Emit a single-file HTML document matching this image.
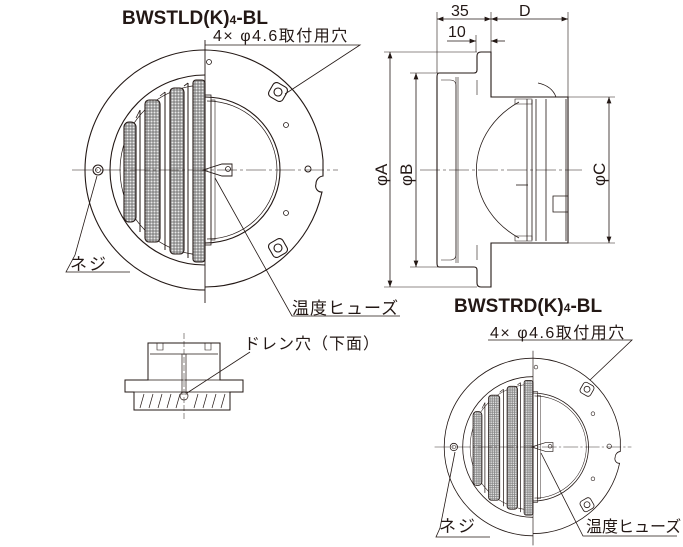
<!DOCTYPE html>
<html><head><meta charset="utf-8"><style>
html,body{margin:0;padding:0;background:#fff;}
svg{display:block;}
text{font-family:"Liberation Sans","Noto Sans CJK JP",sans-serif;fill:#231815;}
</style></head><body>
<svg width="683" height="547" viewBox="0 0 683 547" xmlns="http://www.w3.org/2000/svg">
<defs>
<pattern id="m" width="3" height="3" patternUnits="userSpaceOnUse">
<rect width="3" height="3" fill="#8a8a8a"/>
<circle cx="1.5" cy="1.5" r="1" fill="#e8e8e8"/>
</pattern>
<marker id="a" viewBox="0 0 8 6" refX="8" refY="3" markerWidth="8" markerHeight="6" orient="auto-start-reverse"><path d="M0,0L8,3L0,6z" fill="#231815"/></marker>
<g id="face" fill="none" stroke="#231815" stroke-width="1.1">
 <path d="M205,50 A120,120 0 0 0 205,290" />
 <path d="M205,75 A95,95 0 0 0 205,265" />
 <path d="M205,85 A85,85 0 0 0 205,255" stroke-width="0.7"/>
 <rect x="124" y="122" width="12" height="100" rx="5" fill="url(#m)"/>
 <rect x="145" y="100" width="15" height="142" rx="4" fill="url(#m)"/>
 <rect x="170" y="88" width="14" height="166" rx="4" fill="url(#m)"/>
 <rect x="193" y="80" width="12" height="182" rx="3" fill="url(#m)"/>
 <path d="M140,110 V232 M165,92 V250 M188,83 V258" stroke-width="1"/>
 <path d="M136,118 L140,110 M160,96 L165,92 M184,86 L188,83" stroke-width="0.8"/>
 <path d="M205,50 A120,120 0 0 1 323,160 L323,176 A8,8 0 0 0 316,184 A6,6 0 0 0 322,192 A120,120 0 0 1 205,287"/>
 <path d="M205,97 A75,73 0 0 1 205,243" />
 <path d="M207,101 A70,69 0 0 1 207,239" stroke-width="0.7"/>
 <rect x="205" y="95" width="6" height="150" stroke-width="0.8"/>
 <rect x="211" y="100" width="4" height="140" stroke-width="0.6"/>
 <path d="M203,170 L222,164 L232,164 L232,176 L222,176 Z" stroke-width="0.9"/>
 <circle cx="228" cy="169" r="2.5" stroke-width="0.8"/>
 <rect x="270" y="84" width="16" height="16" rx="4" transform="rotate(30 278 92)"/>
 <circle cx="278" cy="92" r="4"/>
 <rect x="270" y="240" width="16" height="16" rx="4" transform="rotate(-30 278 248)"/>
 <circle cx="278" cy="248" r="4"/>
 <circle cx="286" cy="125" r="2.5" stroke-width="0.8"/>
 <circle cx="286" cy="213" r="2.5" stroke-width="0.8"/>
 <circle cx="308" cy="169" r="3" stroke-width="0.9"/>
 <circle cx="209" cy="62" r="2.5" stroke-width="0.8"/>
 <circle cx="98" cy="170" r="5"/>
 <circle cx="98" cy="170" r="2.5" stroke-width="0.7"/>
 <path d="M72,170 H338" stroke-width="0.6" stroke-dasharray="20,3,3,3"/>
 <path d="M205,40 V303" stroke-width="0.9"/>
</g>
</defs>

<use href="#face"/>
<g transform="translate(533,447) scale(0.74) translate(-205,-170)"><use href="#face"/></g>

<g fill="none" stroke="#231815" stroke-width="0.8">
 <path d="M205,45 H360 L285,94"/>
 <path d="M97,176 L75,255 L66,272 H130" />
 <path d="M215,178 L292,316 H400"/>
 <path d="M488,340 H632 L590,380"/>
 <path d="M455,452 L440,528 L436,537 H490"/>
 <path d="M541,453 L583,536 H677"/>
 <path d="M439,73 H474 Q477,73 477,70 V56 Q477,52 481,52 H491 V97 H568 V243 H491 V287 H481 Q477,287 477,283 V270 Q477,267 474,267 H439 Q437,267 437,263 V77 Q437,73 439,73 Z" stroke-width="1.1"/>
 <path d="M456,77 V263 M458,77 V263" stroke-width="0.6"/>
 <path d="M441,80 H450 Q456,80 456,86 V254 Q456,260 450,260 H441" stroke-width="0.6"/>
 <path d="M477,80 V95 M477,245 V260" stroke-width="0.6"/>
 <path d="M519,102 A90,80 0 0 0 519,238" stroke-width="0.8"/>
 <path d="M527,99 V241 M532,100 V240 M536,99 V241 M546,99 V241 M566,99 V241" stroke-width="0.8"/>
 <path d="M515,99 H532 V104 H515 Z M515,236 H532 V241 H515 Z" stroke-width="0.6"/>
 <path d="M516,185 H528" stroke-width="0.8"/>
 <path d="M553,196 H568 V212 H553 Z" stroke-width="0.8"/>
 <path d="M538,83 Q552,86 556,97" stroke-width="0.8"/>
 <path d="M420,170 H582" stroke-width="0.6" stroke-dasharray="20,3,3,3"/>
 <path d="M437,73 V12 M491,52 V12 M568,97 V12 M476,52 V35" stroke-width="0.6"/>
 <path d="M437,19 H491" marker-start="url(#a)" marker-end="url(#a)"/>
 <path d="M491,19 H568" marker-start="url(#a)" marker-end="url(#a)"/>
 <path d="M447,41 H476" marker-end="url(#a)"/>
 <path d="M491,41 H505" marker-start="url(#a)"/>
 <path d="M384,52 H477 M410,73 H438 M384,287 H477 M410,267 H438" stroke-width="0.6"/>
 <path d="M390,52 V287" marker-start="url(#a)" marker-end="url(#a)"/>
 <path d="M416,73 V267" marker-start="url(#a)" marker-end="url(#a)"/>
 <path d="M568,97 H615 M568,243 H615" stroke-width="0.6"/>
 <path d="M609,97 V243" marker-start="url(#a)" marker-end="url(#a)"/>
 <path d="M148,343 H220 V380 H243 V392 H230 V410 H134 V392 H125 V380 H148 Z" stroke-width="1"/>
 <path d="M150,354 H218 M148,380 H220 M134,392 H230" stroke-width="0.7"/>
 <path d="M157,343 V350 H163 V343 M205,343 V350 H211 V343" stroke-width="0.6"/>
 <path d="M182,354 V395 M186,354 V395" stroke-width="0.7"/>
 <circle cx="184" cy="396" r="4" stroke-width="0.7"/>
 <path d="M140,408 L144,394 M149,408 L153,394 M158,408 L162,394 M167,408 L171,394 M176,408 L180,394 M194,408 L198,394 M203,408 L207,394 M212,408 L216,394 M221,408 L225,394" stroke-width="0.7"/>
 <path d="M184,333 V420" stroke-width="0.5" stroke-dasharray="6,2"/>
 <path d="M187,393 L250,352" />
</g>

<g>
 <text x="122" y="24" font-size="19" font-weight="bold">BWSTLD(K)<tspan font-size="12">4</tspan>-BL</text>
 <text x="213" y="41" font-size="16" letter-spacing="1.5">4× φ4.6取付用穴</text>
 <text x="70" y="270" font-size="17" letter-spacing="2">ネジ</text>
 <text x="292" y="314" font-size="17" letter-spacing="1">温度ヒューズ</text>
 <text x="454" y="312" font-size="19" font-weight="bold">BWSTRD(K)<tspan font-size="12">4</tspan>-BL</text>
 <text x="490" y="338" font-size="16" letter-spacing="1.5">4× φ4.6取付用穴</text>
 <text x="244" y="349" font-size="16" letter-spacing="1">ドレン穴（下面）</text>
 <text x="439" y="532" font-size="17" letter-spacing="2">ネジ</text>
 <text x="586" y="532" font-size="16">温度ヒューズ</text>
 <text x="451" y="16" font-size="16">35</text>
 <text x="519" y="16" font-size="16">D</text>
 <text x="448" y="37" font-size="16">10</text>
 <text transform="translate(387,186) rotate(-90)" font-size="17">φA</text>
 <text transform="translate(412,186) rotate(-90)" font-size="17">φB</text>
 <text transform="translate(605,186) rotate(-90)" font-size="17">φC</text>
</g>
</svg>
</body></html>
